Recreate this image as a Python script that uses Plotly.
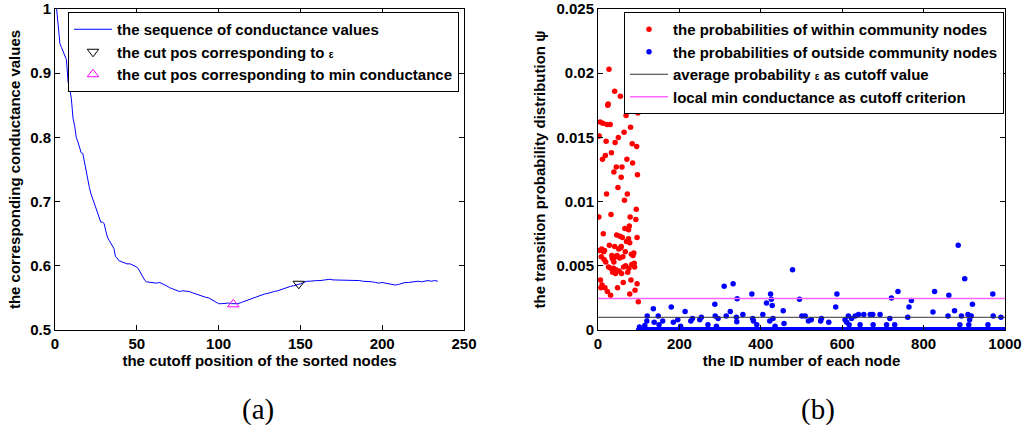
import plotly.graph_objects as go

# ---------------- (a) conductance sequence ----------------
cut_pos = [1, 2, 3, 4, 5, 6, 7, 8, 9, 10, 11, 12, 13, 14, 15, 16, 17, 18, 19, 20,
           21, 22, 23, 24, 25, 26, 27, 28, 29, 30, 31, 32, 33, 34, 35, 36, 37, 38, 39, 40,
           41, 42, 44, 46, 48, 50, 51, 52, 53, 54, 55, 56, 58, 60, 62, 64, 66, 68, 70, 72,
           74, 76, 78, 80, 82, 84, 86, 88, 90, 92, 94, 96, 98, 100, 102, 104, 106, 108, 110, 112,
           114, 116, 118, 120, 122, 124, 126, 128, 130, 132, 134, 136, 138, 140, 142, 144, 146, 148, 149, 150,
           152, 154, 156, 158, 160, 162, 164, 166, 168, 170, 172, 174, 176, 178, 180, 182, 184, 186, 188, 190,
           192, 194, 196, 198, 200, 202, 204, 206, 208, 210, 212, 214, 216, 218, 220, 222, 224, 226, 228, 230,
           232, 234]
conductance = [1.000, 0.968, 0.946, 0.940, 0.933, 0.926, 0.921, 0.886, 0.876, 0.860, 0.830, 0.818, 0.800, 0.793, 0.785, 0.776, 0.775, 0.760, 0.748, 0.733,
               0.722, 0.712, 0.705, 0.698, 0.690, 0.683, 0.675, 0.668, 0.668, 0.666, 0.655, 0.645, 0.640, 0.635, 0.630, 0.627, 0.614, 0.612, 0.608, 0.607,
               0.606, 0.605, 0.603, 0.603, 0.600, 0.598, 0.595, 0.590, 0.586, 0.580, 0.577, 0.575, 0.574, 0.574, 0.573, 0.574, 0.572, 0.569, 0.566, 0.564,
               0.562, 0.560, 0.561, 0.561, 0.560, 0.558, 0.556, 0.555, 0.553, 0.551, 0.550, 0.547, 0.544, 0.541, 0.541, 0.542, 0.542, 0.541, 0.541, 0.541,
               0.543, 0.545, 0.546, 0.548, 0.550, 0.552, 0.554, 0.556, 0.557, 0.559, 0.560, 0.561, 0.563, 0.565, 0.566, 0.568, 0.569, 0.570, 0.571, 0.572,
               0.574, 0.576, 0.576, 0.577, 0.577, 0.577, 0.578, 0.578, 0.579, 0.578, 0.578, 0.577, 0.578, 0.577, 0.578, 0.577, 0.578, 0.577, 0.576, 0.576,
               0.576, 0.575, 0.574, 0.573, 0.574, 0.573, 0.571, 0.570, 0.570, 0.571, 0.573, 0.574, 0.574, 0.575, 0.575, 0.576, 0.575, 0.576, 0.577, 0.576,
               0.577, 0.576]
eps_cut_x, eps_cut_y = [149], [0.572]
min_cut_x, min_cut_y = [109], [0.540]
x_ticks_a = [0, 50, 100, 150, 200, 250]
y_ticks_a = [0.5, 0.6, 0.7, 0.8, 0.9, 1.0]
y_labels_a = ["0.5", "0.6", "0.7", "0.8", "0.9", "1"]

# ---------------- (b) probabilities ----------------
within_ids = [27, 41, 55, 24, 25, 87, 92, 98, 69, 5, 12, 22, 30, 80, 3, 64, 50, 20, 42, 84,
              95, 33, 18, 11, 71, 85, 45, 59, 39, 57, 97, 49, 21, 72, 65, 2, 32, 94, 79, 93,
              66, 77, 75, 13, 46, 54, 96, 28, 41, 57, 70, 75, 78, 9, 16, 14, 34, 42, 47, 35,
              37, 39, 88, 86, 8, 26, 31, 38, 44, 52, 68, 76, 89, 90, 58, 73, 6, 10, 96, 48,
              62, 23, 78, 91, 31, 99, 4, 15, 19, 36, 43, 51, 56, 60, 63, 67, 82, 83, 81, 17,
              7, 53, 61]
within_vals = [0.0203, 0.0186, 0.0182, 0.0175, 0.0176, 0.0177, 0.0173, 0.0169, 0.0167, 0.0162,
               0.0161, 0.0160, 0.0160, 0.0158, 0.0151, 0.0154, 0.0150, 0.0147, 0.0146, 0.0145,
               0.0143, 0.0138, 0.0136, 0.0133, 0.0133, 0.0130, 0.0127, 0.0127, 0.0123, 0.0119,
               0.0121, 0.0111, 0.0106, 0.0106, 0.0101, 0.0088, 0.0090, 0.0094, 0.0088, 0.0086,
               0.0079, 0.0081, 0.0078, 0.0075, 0.0074, 0.0073, 0.0072, 0.0066, 0.0065, 0.0065,
               0.0069, 0.0071, 0.0068, 0.0063, 0.0062, 0.0061, 0.0058, 0.0057, 0.0058, 0.0056,
               0.0055, 0.0053, 0.0060, 0.0058, 0.0057, 0.0049, 0.0048, 0.0048, 0.0047, 0.0046,
               0.0050, 0.0048, 0.0052, 0.0049, 0.0044, 0.0045, 0.0039, 0.0035, 0.0036, 0.0033,
               0.0037, 0.0030, 0.0028, 0.0031, 0.0027, 0.0022, 0.0062, 0.0055, 0.0053, 0.0045,
               0.0044, 0.0063, 0.0064, 0.0072, 0.0049, 0.0061, 0.0059, 0.0051, 0.0039, 0.0033,
               0.0033, 0.0056, 0.0057]

outside_ids_nonzero = [102, 115, 121, 120, 136, 138, 148, 150, 159, 180, 185, 196, 203, 214, 228, 232, 250, 254, 270, 287,
                       288, 291, 295, 310, 315, 325, 332, 340, 342, 341, 356, 378, 380, 382, 390, 405, 414, 424, 426, 428,
                       430, 422, 435, 455, 457, 478, 495, 501, 509, 517, 524, 547, 549, 567, 584, 587, 607, 611, 615, 623,
                       617, 632, 640, 644, 653, 669, 675, 676, 693, 709, 717, 721, 729, 737, 761, 764, 770, 823, 827, 860,
                       862, 876, 885, 889, 893, 901, 909, 913, 911, 920, 917, 958, 970, 971, 990]
outside_vals_nonzero = [0.00023, 0.00036, 0.0011, 0.0007, 0.00166, 0.0006, 0.0011, 0.0004, 0.0007, 0.0018,
                        0.0006, 0.0008, 0.0003, 0.00145, 0.0007, 0.0009, 0.0008, 0.0010, 0.0004, 0.0020,
                        0.0011, 0.0003, 0.0009, 0.0034, 0.0011, 0.00145, 0.0036, 0.0010, 0.00244, 0.00065,
                        0.0012, 0.0028, 0.0009, 0.0007, 0.0004, 0.0012, 0.0021, 0.0028, 0.0024, 0.0019,
                        0.0009, 0.0007, 0.0003, 0.0015, 0.0005, 0.0047, 0.0024, 0.0011, 0.0011, 0.0007,
                        0.0008, 0.0007, 0.0009, 0.0006, 0.0018, 0.0028, 0.0008, 0.0006, 0.0011, 0.0009,
                        0.0004, 0.0011, 0.0012, 0.0004, 0.0012, 0.0012, 0.0012, 0.0004, 0.0012, 0.0004,
                        0.0009, 0.0025, 0.0004, 0.0030, 0.0010, 0.0018, 0.0023, 0.0014, 0.0030, 0.0011,
                        0.0027, 0.0015, 0.0066, 0.0004, 0.0011, 0.0040, 0.0012, 0.0008, 0.0004, 0.0020,
                        0.0011, 0.0004, 0.0028, 0.0011, 0.0010]
outside_first_id, outside_last_id = 100, 1000   # all other outside nodes read as ~0
avg_prob_eps = 0.00099
min_cond_cutoff = 0.00245
x_ticks_b = [0, 200, 400, 600, 800, 1000]
y_ticks_b = [0, 0.005, 0.01, 0.015, 0.02, 0.025]
y_labels_b = ["0", "0.005", "0.01", "0.015", "0.02", "0.025"]

nz = set(outside_ids_nonzero)
outside_ids = list(outside_ids_nonzero) + [i for i in range(outside_first_id, outside_last_id + 1) if i not in nz]
outside_vals = list(outside_vals_nonzero) + [0.0] * (len(outside_ids) - len(outside_ids_nonzero))

FONT = "Liberation Sans, Arial, sans-serif"
EPS = "<span style='font-size:10px'>ε</span>"
def b(t): return "<b>" + t + "</b>"

fig = go.Figure()

# (a)
fig.add_trace(go.Scatter(x=cut_pos, y=conductance, mode="lines",
                         line=dict(color="#0000FF", width=1),
                         name=b("the sequence of conductance values"), xaxis="x", yaxis="y", legend="legend"))
fig.add_trace(go.Scatter(x=eps_cut_x, y=eps_cut_y, mode="markers",
                         marker=dict(symbol="triangle-down-open", color="black", size=10, line=dict(width=1)),
                         name=b("the cut pos corresponding to " + EPS), xaxis="x", yaxis="y", legend="legend"))
fig.add_trace(go.Scatter(x=min_cut_x, y=min_cut_y, mode="markers",
                         marker=dict(symbol="triangle-up-open", color="#FF00FF", size=10, line=dict(width=1)),
                         name=b("the cut pos corresponding to min conductance"), xaxis="x", yaxis="y", legend="legend"))

# (b)
fig.add_trace(go.Scatter(x=within_ids, y=within_vals, mode="markers",
                         marker=dict(color="#FF0000", size=5.5),
                         name=b("the probabilities of within community nodes"), xaxis="x2", yaxis="y2", legend="legend2"))
fig.add_trace(go.Scatter(x=outside_ids, y=outside_vals, mode="markers",
                         marker=dict(color="#0000FF", size=5.5),
                         name=b("the probabilities of outside community nodes"), xaxis="x2", yaxis="y2", legend="legend2"))
fig.add_trace(go.Scatter(x=[0, 1000], y=[avg_prob_eps, avg_prob_eps], mode="lines",
                         line=dict(color="#333333", width=1),
                         name=b("average probability " + EPS + " as cutoff value"), xaxis="x2", yaxis="y2", legend="legend2"))
fig.add_trace(go.Scatter(x=[0, 1000], y=[min_cond_cutoff, min_cond_cutoff], mode="lines",
                         line=dict(color="#FF66FF", width=1.5),
                         name=b("local min conductance as cutoff criterion"), xaxis="x2", yaxis="y2", legend="legend2"))

W, H = 1027, 425
def px_x(p): return p / W
def px_y(p): return 1 - p / H

axis_common = dict(showline=True, linecolor="black", linewidth=1, mirror="ticks",
                   ticks="inside", ticklen=5, tickcolor="black", showgrid=False, zeroline=False,
                   tickfont=dict(family=FONT, size=15, color="black"),
                   ticklabeloverflow="allow", automargin=False)
title_font = dict(family=FONT, size=15, color="black")
leg_font = dict(family=FONT, size=15, color="black")

fig.update_layout(
    width=W, height=H,
    margin=dict(l=0, r=0, t=0, b=0),
    paper_bgcolor="white", plot_bgcolor="white",
    showlegend=True,
    xaxis=dict(domain=[px_x(55), px_x(464)], range=[0, 250], tickvals=x_ticks_a,
               ticktext=[b(str(v)) for v in x_ticks_a],
               anchor="y", title=dict(text=b("the cutoff position of the sorted nodes"), font=title_font, standoff=3),
               **axis_common),
    yaxis=dict(domain=[px_y(330), px_y(9)], range=[0.5, 1.0], tickvals=y_ticks_a,
               ticktext=[b(t) for t in y_labels_a], anchor="x",
               title=dict(text=b("the corresponding conductance values"), font=title_font, standoff=5),
               **axis_common),
    xaxis2=dict(domain=[px_x(598), px_x(1005)], range=[0, 1000], tickvals=x_ticks_b,
                ticktext=[b(str(v)) for v in x_ticks_b],
                anchor="y2", title=dict(text=b("the ID number of each node"), font=title_font, standoff=3),
                **axis_common),
    yaxis2=dict(domain=[px_y(330), px_y(9)], range=[0, 0.025],
                tickvals=y_ticks_b,
                ticktext=[b(t) for t in y_labels_b], anchor="x2",
                title=dict(text=b("the transition probability distribution ψ"), font=title_font, standoff=7),
                **axis_common),
    legend=dict(x=px_x(68), y=px_y(12), xanchor="left", yanchor="top",
                bgcolor="white", bordercolor="black", borderwidth=1,
                font=leg_font, tracegroupgap=0, itemwidth=38),
    legend2=dict(x=px_x(624), y=px_y(12), xanchor="left", yanchor="top",
                 bgcolor="white", bordercolor="black", borderwidth=1,
                 font=leg_font, tracegroupgap=0, itemwidth=38),
    annotations=[
        dict(text="(a)", x=px_x(258), y=px_y(409), xref="paper", yref="paper", showarrow=False,
             xanchor="center", yanchor="middle",
             font=dict(family="Liberation Serif, Times New Roman, serif", size=29, color="black")),
        dict(text="(b)", x=px_x(818), y=px_y(409), xref="paper", yref="paper", showarrow=False,
             xanchor="center", yanchor="middle",
             font=dict(family="Liberation Serif, Times New Roman, serif", size=29, color="black")),
    ],
)

fig.write_html("out.html")
